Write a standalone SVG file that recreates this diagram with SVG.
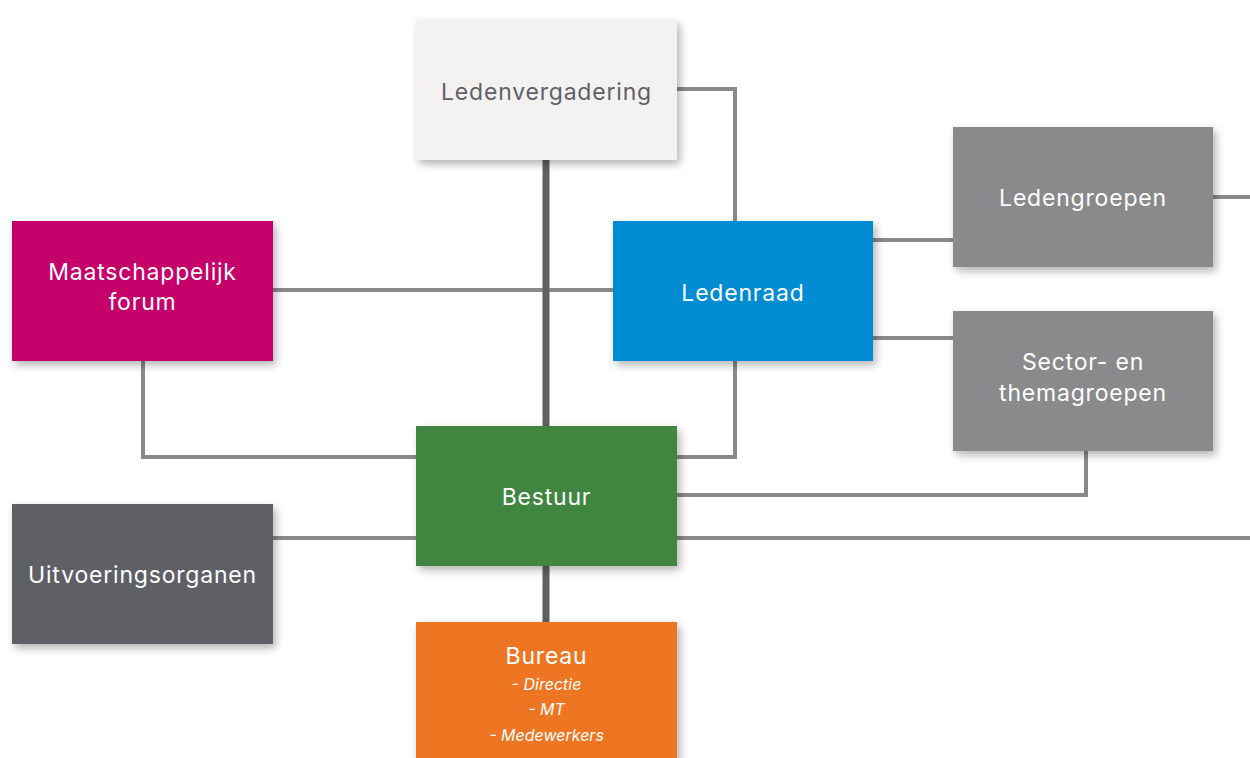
<svg xmlns="http://www.w3.org/2000/svg" width="1250" height="758" viewBox="0 0 1250 758">
<style>
.t{font-family:Inter,"Open Sans","Liberation Sans",sans-serif;font-size:23px;letter-spacing:0.8px;fill:#fff;text-anchor:middle}
.s{font-family:Inter,"Open Sans","Liberation Sans",sans-serif;font-size:16px;font-style:italic;fill:#fff;text-anchor:middle}
.c{fill:none;stroke:#8a8a8a;stroke-width:4}
.m{fill:none;stroke:#5f6066;stroke-width:7}
</style>
<defs>
<filter id="sh" x="-10%" y="-10%" width="130%" height="135%">
<feDropShadow dx="3" dy="4" stdDeviation="4" flood-color="#000" flood-opacity="0.3"/>
</filter>
</defs>
<rect width="1250" height="758" fill="#fff"/>
<g id="connectors">
<path class="c" d="M677 89H735V221"/>
<path class="c" d="M273 290H613"/>
<path class="c" d="M143 361V457H416"/>
<path class="c" d="M735 361V457H677"/>
<path class="c" d="M873 240H953"/>
<path class="c" d="M873 338H953"/>
<path class="c" d="M1213 197H1250"/>
<path class="c" d="M1086 451V495H677"/>
<path class="c" d="M677 538H1250"/>
<path class="c" d="M273 538H416"/>
<path class="m" d="M546 160V622"/>
</g>
<g id="ledenvergadering">
<rect x="416" y="20" width="261" height="140" fill="#f3f2f0" filter="url(#sh)"/>
<text class="t" x="546.5" y="100" style="fill:#5f6066">Ledenvergadering</text>
</g>
<g id="ledengroepen">
<rect x="953" y="127" width="260" height="140" fill="#8a8a8c" filter="url(#sh)"/>
<text class="t" x="1083" y="206">Ledengroepen</text>
</g>
<g id="maatschappelijk-forum">
<rect x="12" y="221" width="261" height="140" fill="#c6006b" filter="url(#sh)"/>
<text class="t" x="142.5" y="280">Maatschappelijk</text>
<text class="t" x="142.5" y="310">forum</text>
</g>
<g id="ledenraad">
<rect x="613" y="221" width="260" height="140" fill="#008cd2" filter="url(#sh)"/>
<text class="t" x="743" y="301">Ledenraad</text>
</g>
<g id="sector-themagroepen">
<rect x="953" y="311" width="260" height="140" fill="#8a8a8c" filter="url(#sh)"/>
<text class="t" x="1083" y="370">Sector- en</text>
<text class="t" x="1083" y="401">themagroepen</text>
</g>
<g id="bestuur">
<rect x="416" y="426" width="261" height="140" fill="#3f8540" filter="url(#sh)"/>
<text class="t" x="546.5" y="505">Bestuur</text>
</g>
<g id="uitvoeringsorganen">
<rect x="12" y="504" width="261" height="140" fill="#5f6066" filter="url(#sh)"/>
<text class="t" x="142.5" y="583">Uitvoeringsorganen</text>
</g>
<g id="bureau">
<rect x="416" y="622" width="261" height="150" fill="#ee7623" filter="url(#sh)"/>
<text class="t" x="546.5" y="664">Bureau</text>
<text class="s" x="546.5" y="690">- Directie</text>
<text class="s" x="546.5" y="715">- MT</text>
<text class="s" x="546.5" y="741">- Medewerkers</text>
</g>
</svg>
